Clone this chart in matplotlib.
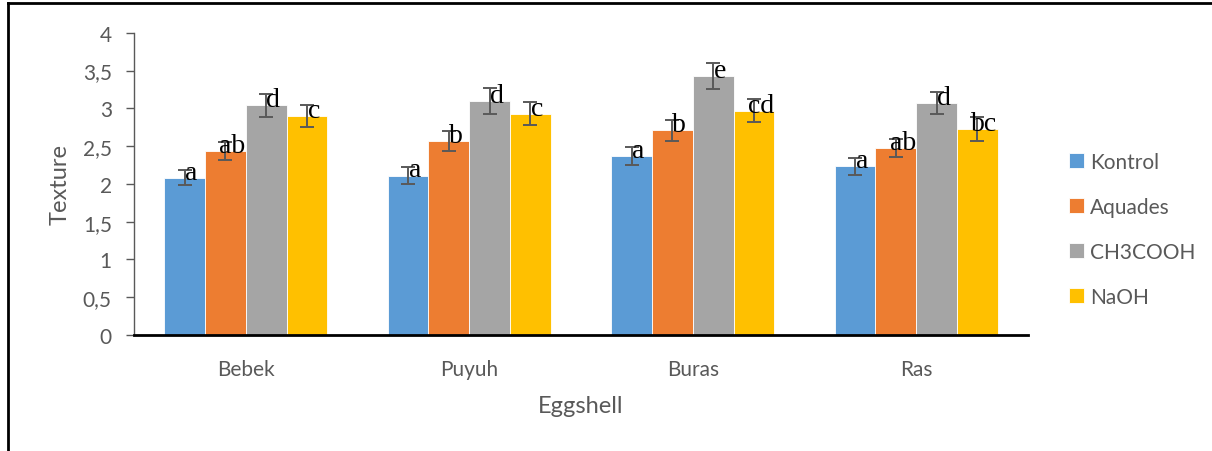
import matplotlib.pyplot as plt
from matplotlib.lines import Line2D
import numpy as np

# data
eggshell = ["Bebek", "Puyuh", "Buras", "Ras"]
treatments = ["Kontrol", "Aquades", "CH3COOH", "NaOH"]
kontrol = [2.08, 2.11, 2.37, 2.23]
aquades = [2.44, 2.57, 2.71, 2.47]
ch3cooh = [3.04, 3.10, 3.43, 3.07]
naoh = [2.90, 2.93, 2.97, 2.73]
err_kontrol = [0.10, 0.11, 0.12, 0.115]
err_aquades = [0.12, 0.13, 0.14, 0.12]
err_ch3cooh = [0.15, 0.17, 0.17, 0.15]
err_naoh = [0.145, 0.15, 0.15, 0.16]
lbl_kontrol = ["a", "a", "a", "a"]
lbl_aquades = ["ab", "b", "b", "ab"]
lbl_ch3cooh = ["d", "d", "e", "d"]
lbl_naoh = ["c", "c", "cd", "bc"]
yticks = [0, 0.5, 1, 1.5, 2, 2.5, 3, 3.5, 4]
ytick_labels = ["0", "0,5", "1", "1,5", "2", "2,5", "3", "3,5", "4"]

colors = ["#5B9BD5", "#ED7D31", "#A5A5A5", "#FFC000"]
txt_gray = "#595959"

series = [kontrol, aquades, ch3cooh, naoh]
errors = [err_kontrol, err_aquades, err_ch3cooh, err_naoh]
letters = [lbl_kontrol, lbl_aquades, lbl_ch3cooh, lbl_naoh]

plt.rcParams['font.family'] = ['Lato', 'DejaVu Sans']

fig = plt.figure(figsize=(12.12, 4.52), dpi=100)
ax = fig.add_axes([0.1106, 0.2566, 0.7376, 0.6688])

x = np.arange(len(eggshell))
w = 0.1825
for i, (vals, errs, labs) in enumerate(zip(series, errors, letters)):
    pos = x + (i - 1.5) * w
    ax.bar(pos, vals, width=w, color=colors[i], edgecolor="white", linewidth=0.6,
           label=treatments[i], zorder=2)
    ax.errorbar(pos, vals, yerr=errs, fmt="none", ecolor=txt_gray, elinewidth=1.4,
                capsize=5, capthick=1.4, zorder=3)
    for p, v, s in zip(pos, vals, labs):
        ax.annotate(s, (p, v), xytext=(5, 4), textcoords="offset points",
                    ha="center", va="center", fontsize=20,
                    family="Liberation Serif", color="black", zorder=4)

ax.set_xlim(-0.5, 3.5)
ax.set_ylim(0, 4)
ax.set_yticks(yticks)
ax.set_yticklabels(ytick_labels)
ax.set_xticks(x)
ax.set_xticklabels(eggshell)
ax.tick_params(axis="y", length=6, width=1, color=txt_gray, labelcolor=txt_gray,
               labelsize=15, pad=10)
ax.tick_params(axis="x", length=0, labelcolor=txt_gray, labelsize=15, pad=17)

for s in ["top", "right"]:
    ax.spines[s].set_visible(False)
ax.spines["left"].set_color(txt_gray)
ax.spines["left"].set_linewidth(1)
ax.spines["bottom"].set_color("black")
ax.spines["bottom"].set_linewidth(2)

ax.set_ylabel("Texture", fontsize=17, color=txt_gray, labelpad=9)
ax.set_xlabel("Eggshell", fontsize=17, color=txt_gray, labelpad=12)

ax.legend(loc="center left", bbox_to_anchor=(1.025, 0.35), frameon=False,
          fontsize=15, labelcolor=txt_gray, handlelength=0.7, handleheight=0.7,
          handletextpad=0.3, labelspacing=1.2)

# page frame around the chart
fig.add_artist(Line2D([8 / 1212, 8 / 1212], [0, 1 - 4 / 452], color="black", lw=2))
fig.add_artist(Line2D([8 / 1212, 1], [1 - 4 / 452, 1 - 4 / 452], color="black", lw=2))

fig.savefig("out.png", dpi=100)
